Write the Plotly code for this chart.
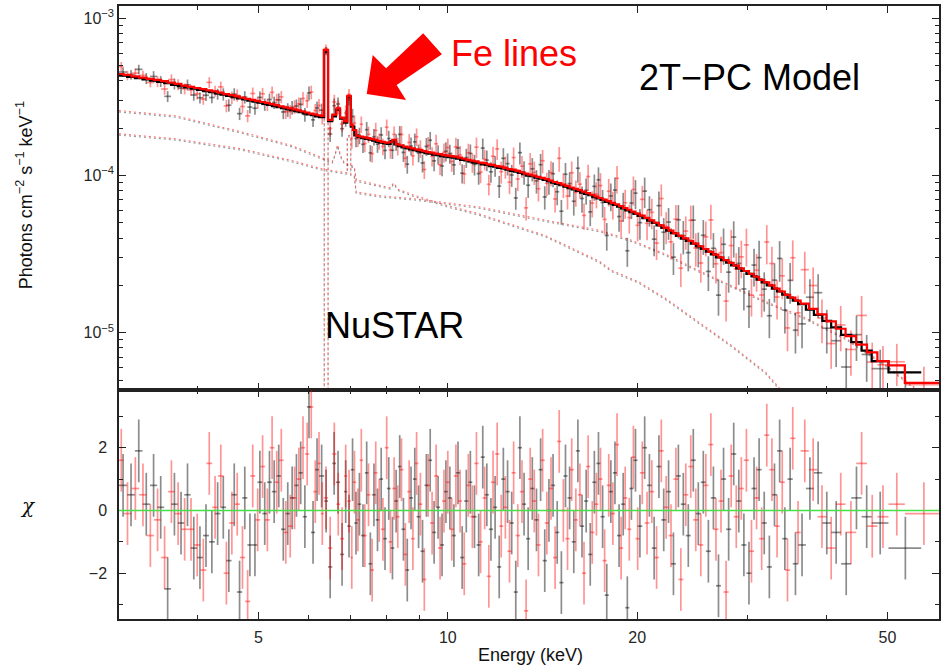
import math
import plotly.graph_objects as go

FLUX_UNIT = 1e-4          # model / flux arrays are in units of 1e-4 photons cm^-2 s^-1 keV^-1
CROSS_NORM_B = 1.02       # FPMB / FPMA cross normalisation used for the red model components

# ---------------- FPMA (black) ----------------
edges_A = [3.00, 3.09, 3.18, 3.27, 3.36, 3.45, 3.54, 3.63, 3.72, 3.81, 3.90, 3.99, 4.08, 4.17, 4.26, 4.35,
           4.44, 4.53, 4.62, 4.71, 4.80, 4.89, 4.98, 5.07, 5.16, 5.25, 5.34, 5.43, 5.52, 5.61, 5.70, 5.79,
           5.88, 5.97, 6.06, 6.15, 6.24, 6.36,
           6.45, 6.55, 6.64, 6.74, 6.84, 6.92, 7.01, 7.10, 7.19, 7.28, 7.38, 7.48, 7.58, 7.68, 7.78, 7.89,
           8.00, 8.11, 8.22, 8.33, 8.44, 8.56, 8.68, 8.80, 8.92, 9.05, 9.18, 9.31, 9.44, 9.58, 9.72, 9.86, 10.00,
           10.15, 10.30, 10.46, 10.62, 10.78, 10.94, 11.11, 11.28, 11.45, 11.62, 11.80, 11.98, 12.16, 12.35,
           12.54, 12.73, 12.92, 13.12, 13.32, 13.52, 13.73, 13.94, 14.15, 14.37, 14.59, 14.81, 15.04, 15.27,
           15.50, 15.74, 15.98, 16.22, 16.47, 16.72, 16.97, 17.23, 17.49, 17.76, 18.03, 18.30, 18.58, 18.86,
           19.15, 19.44, 19.73, 20.03,
           20.38, 20.74, 21.10, 21.47, 21.85, 22.24, 22.64, 23.05, 23.47, 23.90, 24.34, 24.79, 25.25, 25.72,
           26.20, 26.69, 27.19, 27.70, 28.22, 28.75, 29.29, 29.84, 30.40, 30.97, 31.55, 32.15, 32.76, 33.38,
           34.02, 34.68, 35.36, 36.06,
           37.1, 38.2, 39.4, 40.7, 42.2, 43.8, 45.5, 47.2, 50.2, 56.6]
model_A = [4.32, 4.24, 4.17, 4.09, 4.02, 3.95, 3.87, 3.78, 3.71, 3.64, 3.57, 3.51, 3.45, 3.39, 3.33, 3.27,
           3.22, 3.16, 3.10, 3.05, 3.00, 2.95, 2.91, 2.86, 2.82, 2.77, 2.73, 2.69, 2.65, 2.61, 2.57, 2.53,
           2.49, 2.45, 2.42, 2.38, 2.35,
           6.1, 2.22, 2.38, 2.62, 2.30, 2.17, 3.16, 2.05, 1.80, 1.76, 1.73, 1.71, 1.69, 1.67, 1.64, 1.62,
           1.60, 1.59, 1.66, 1.58, 1.54, 1.51, 1.49, 1.47, 1.45, 1.43, 1.41, 1.39, 1.38, 1.36, 1.35, 1.33, 1.32,
           1.31, 1.30, 1.28, 1.26, 1.25, 1.23, 1.21, 1.20, 1.18, 1.17, 1.15, 1.14, 1.12, 1.11, 1.09, 1.07,
           1.06, 1.04, 1.02, 1.00, 0.99, 0.97, 0.957, 0.94, 0.92, 0.90, 0.886, 0.868, 0.85, 0.833, 0.817, 0.80,
           0.78, 0.765, 0.75, 0.73, 0.715, 0.70, 0.68, 0.665, 0.65, 0.635, 0.618, 0.60, 0.585, 0.57,
           0.554, 0.535, 0.517, 0.50, 0.482, 0.464, 0.447, 0.430, 0.413, 0.397, 0.384, 0.369, 0.355, 0.341,
           0.328, 0.315, 0.302, 0.290, 0.279, 0.268, 0.257, 0.247, 0.237, 0.228, 0.218, 0.209, 0.200, 0.191,
           0.183, 0.175, 0.167, 0.160,
           0.152, 0.140, 0.130, 0.119, 0.108, 0.097, 0.087, 0.077, 0.066, 0.056]
chi_A = [0.8, 0.5, 1.9, 0.2, 0.8, 0.1, -2.5, 0.2, -0.4, 0.5, -1.2, -1.5, -0.8, -1.0, -0.1, 0.1,
         -1.6, 0.5, -2.6, 0.4, -1.1, -1.1, 0.9, -0.1, 0.9, 0.6, 1.1, -0.6, -0.1, 0.4, 0.8, 1.2,
         -0.2, 3.3, -0.7, 1.3, 1.1,
         0.3, -1.8, 1.5, 0.9, -1.4, 0.6, -0.5, 1.3, -0.4, 0.2, -0.8, 1.2, -1.7, 0.5, -0.3, 1.0,
         -0.9, 0.7, -1.2, 0.3, 1.4, -0.6, -1.9, 0.4, 1.0, -0.2, -1.3, 0.8, 1.6, -0.7, 0.1, -1.1, 0.6,
         0.4, -0.8, 1.2, -1.5, 0.3, 0.9, -0.2, -1.1, 1.7, 0.5, -0.6, 0.1, -1.8, 1.0, 0.6, -0.4,
         -2.6, 2.0, 0.2, -0.9, 0.7, -0.3, 1.3, -1.6, 0.0, 0.8, -0.7, -2.3, 1.1, 0.4, -1.0, 1.9,
         -0.5, 0.3, -1.4, 0.9, 1.5, -0.2, -2.7, 0.6, 1.2, -0.8, 0.2, -3.1, 0.7, 1.6,
         -0.5, 2.0, 0.8, -1.2, 1.4, -0.3, 0.6, -1.7, 1.1, 0.2, -0.8, 1.6, -0.1, 0.9, -1.3, 0.4,
         -2.4, 1.0, -0.6, 1.8, 0.3, -1.1, -2.0, 0.7, 1.3, -0.4, -1.8, 0.5, 1.9, -0.9, 1.0, -1.7,
         -1.1, 0.7, 1.2, -0.4, -0.7, -1.7, 0.4, -0.2, -0.4, -1.2]
relerr_A = [7, 7, 7, 8, 8, 8, 8, 8, 8, 8, 8, 8, 8, 8, 8, 9, 9, 9, 9, 9, 9, 9, 9, 9, 9, 9,
            10, 10, 10, 10, 10, 10, 10, 10, 10, 10, 10,
            6, 11, 11, 10, 11, 12, 8, 12, 12, 12, 12, 12, 12, 12, 12, 12, 12, 12, 12, 12,
            13, 13, 13, 13, 13, 13, 13, 13, 13, 14, 14, 14, 14,
            14, 14, 14, 14, 14, 14, 15, 15, 15, 15, 15, 15, 16, 16, 16, 16, 16, 16, 17, 17, 17, 17,
            17, 17, 18, 18, 18, 18, 18, 18, 19, 19, 19, 19, 19, 19, 20, 20, 20, 20, 20, 20, 21, 21, 21, 21,
            22, 22, 22, 22, 23, 23, 23, 23, 24, 24, 24, 24, 25, 25, 25, 25, 26, 26, 26, 26,
            27, 27, 27, 27, 28, 28, 28, 28, 29, 29, 29, 29,
            30, 30, 31, 31, 32, 32, 32, 33, 32, 30]

# ---------------- FPMB (red) ----------------
edges_B = [3.00, 3.05, 3.14, 3.23, 3.32, 3.41, 3.50, 3.59, 3.68, 3.77, 3.86, 3.95, 4.04, 4.13, 4.22, 4.31,
           4.40, 4.49, 4.58, 4.67, 4.76, 4.85, 4.94, 5.03, 5.12, 5.21, 5.30, 5.39, 5.48, 5.57, 5.66, 5.75,
           5.84, 5.93, 6.02, 6.11, 6.20, 6.28, 6.35,
           6.45, 6.55, 6.65, 6.74, 6.84, 6.92, 7.01, 7.06, 7.15, 7.24, 7.33, 7.43, 7.53, 7.63, 7.73, 7.83,
           7.94, 8.05, 8.16, 8.27, 8.38, 8.50, 8.62, 8.74, 8.86, 8.98, 9.11, 9.24, 9.37, 9.51, 9.65, 9.79,
           9.93, 10.07,
           10.22, 10.38, 10.54, 10.70, 10.86, 11.02, 11.19, 11.36, 11.53, 11.71, 11.89, 12.07, 12.25, 12.44,
           12.63, 12.82, 13.02, 13.22, 13.42, 13.62, 13.83, 14.04, 14.26, 14.48, 14.70, 14.92, 15.15, 15.38,
           15.62, 15.86, 16.10, 16.34, 16.59, 16.84, 17.10, 17.36, 17.62, 17.89, 18.16, 18.44, 18.72, 19.00,
           19.29, 19.58, 19.88, 20.20,
           20.56, 20.92, 21.29, 21.66, 22.04, 22.44, 22.84, 23.26, 23.68, 24.12, 24.56, 25.02, 25.48, 25.96,
           26.44, 26.94, 27.44, 27.96, 28.48, 29.02, 29.56, 30.12, 30.68, 31.26, 31.85, 32.45, 33.07, 33.70,
           34.35, 35.02, 35.70, 36.40,
           37.5, 38.7, 40.0, 41.4, 42.9, 44.6, 46.4, 48.2, 50.2, 53.3, 61.0]
model_B = [4.43, 4.37, 4.28, 4.20, 4.13, 4.06, 3.99, 3.90, 3.83, 3.74, 3.67, 3.61, 3.55, 3.49, 3.43, 3.37,
           3.30, 3.25, 3.19, 3.13, 3.08, 3.03, 2.99, 2.94, 2.90, 2.85, 2.81, 2.76, 2.72, 2.68, 2.64, 2.60,
           2.56, 2.52, 2.48, 2.45, 2.42, 2.40,
           6.3, 2.26, 2.44, 2.68, 2.34, 2.21, 3.22, 2.10, 1.95, 1.79, 1.77, 1.75, 1.73, 1.71, 1.69, 1.66,
           1.64, 1.62, 1.63, 1.69, 1.58, 1.56, 1.53, 1.51, 1.49, 1.47, 1.45, 1.43, 1.41, 1.40, 1.38, 1.37,
           1.35, 1.34,
           1.33, 1.32, 1.30, 1.28, 1.26, 1.245, 1.23, 1.21, 1.20, 1.18, 1.17, 1.15, 1.14, 1.12, 1.10, 1.09,
           1.07, 1.05, 1.03, 1.015, 1.00, 0.98, 0.967, 0.95, 0.93, 0.91, 0.895, 0.877, 0.86, 0.84, 0.824, 0.808,
           0.79, 0.773, 0.755, 0.737, 0.72, 0.704, 0.687, 0.67, 0.655, 0.64, 0.622, 0.606, 0.59, 0.573,
           0.556, 0.538, 0.518, 0.501, 0.482, 0.465, 0.447, 0.429, 0.413, 0.398, 0.384, 0.369, 0.355, 0.341,
           0.327, 0.314, 0.302, 0.290, 0.278, 0.267, 0.257, 0.247, 0.237, 0.227, 0.217, 0.209, 0.200, 0.191,
           0.183, 0.174, 0.167, 0.160,
           0.153, 0.142, 0.131, 0.118, 0.106, 0.095, 0.084, 0.075, 0.066, 0.062, 0.048]
chi_B = [1.6, -0.1, 0.7, 0.5, -0.8, -0.3, -1.5, 0.6, -0.1, -0.6, -0.6, -1.1, -1.9, 1.5, 0.1, 1.1,
         -2.0, -0.4, 0.2, -1.5, -2.9, 1.1, -0.3, 1.4, -0.3, 2.0, 0.9, 1.6, -0.7, -0.5, 0.4, 1.0,
         2.0, 1.8, 3.3, 0.6, 1.5, -0.1,
         0.4, -1.2, 1.8, 0.2, -0.9, 1.1, 0.3, -1.5, 0.9, -0.3, 1.6, -0.8, 0.5, -1.9, 1.2, 0.0,
         -0.6, 2.0, -1.0, 0.7, -0.2, 1.3, -1.4, 0.6, -0.9, 1.5, 0.2, -2.2, 0.8, -0.4, 1.1, -1.2, 0.3, 0.9,
         -0.6, 1.1, 0.3, -1.7, 0.8, -0.2, 1.5, -1.0, 0.4, -2.1, 0.9, 1.8, -0.5, 0.1, -1.3, 1.2,
         -0.8, 0.6, -3.2, 1.0, 0.3, -1.1, 1.6, -0.4, 0.7, -1.5, 2.2, 0.0, -0.9, 1.3, -0.3, 0.5,
         -2.0, 1.4, -0.7, 0.2, 1.0, -1.6, 0.8, -0.1, 2.1, -1.2, 0.4, -0.6, 1.7, -0.9,
         1.2, -0.4, 0.6, -1.5, 1.9, 0.1, -0.8, 1.0, -2.2, 0.5, 1.4, -0.3, -1.1, 0.8, 2.1, -0.6,
         0.3, -2.6, 1.1, -0.2, 0.7, 1.6, -1.3, 0.4, -0.9, 2.4, 1.3, -0.5, 0.9, -1.9, 2.3, -0.7,
         1.9, 1.3, -0.2, -1.2, 0.2, -0.7, 1.5, -0.5, -0.2, 0.2, -0.1]
relerr_B = [7, 7, 7, 7, 7, 8, 8, 8, 8, 8, 8, 8, 8, 8, 8, 8, 9, 9, 9, 9, 9, 9, 9, 9, 9, 9, 9, 9,
            10, 10, 10, 10, 10, 10, 10, 10, 10, 11,
            6, 11, 11, 10, 11, 12, 8, 14, 12, 12, 12, 12, 12, 12, 12, 12, 12, 12, 12, 12,
            13, 13, 13, 13, 13, 13, 13, 13, 13, 14, 14, 14, 14, 14,
            14, 14, 14, 14, 14, 14, 15, 15, 15, 15, 15, 15, 16, 16, 16, 16, 16, 16, 17, 17, 17, 17,
            17, 17, 18, 18, 18, 18, 18, 18, 19, 19, 19, 19, 19, 19, 20, 20, 20, 20, 20, 20, 21, 21, 21, 21,
            22, 22, 22, 22, 23, 23, 23, 23, 24, 24, 24, 24, 25, 25, 25, 25, 26, 26, 26, 26,
            27, 27, 27, 27, 28, 28, 28, 28, 29, 29, 29, 29,
            30, 30, 31, 31, 32, 32, 33, 33, 32, 30, 30]

# ---------------- model components (dotted) ----------------
cool_E = [3.0, 3.7, 4.7, 5.66, 6.32, 6.55, 6.62, 6.68, 6.76, 6.85, 7.0, 7.1, 7.15, 7.5, 7.9, 8.1,
          8.2, 8.35, 8.8, 10.0, 11.2, 14.3, 16.2, 17.4, 18.2, 20.1, 22.2, 25.0, 28.3, 32.0, 33.6, 36.0]
cool_F = [2.54, 2.35, 1.86, 1.52, 1.27, 1.20, 1.35, 1.54, 1.30, 1.18, 1.14, 1.12, 0.92, 0.88, 0.84, 0.82,
          0.88, 0.80, 0.74, 0.63, 0.56, 0.407, 0.321, 0.28, 0.245, 0.207, 0.162, 0.115, 0.081, 0.055, 0.044, 0.031]
hot_E = [3.0, 3.7, 4.7, 5.66, 6.32, 6.85, 6.92, 6.92, 7.01, 7.01, 7.1, 7.15, 7.8, 8.8, 10.0, 11.2,
         14.3, 17.4, 19.6, 22.2, 25.0, 28.3, 32.0, 37.0, 43.0, 50.0, 56.0, 60.4]
hot_F = [1.81, 1.68, 1.45, 1.22, 1.08, 1.03, 1.02, 1.76, 1.76, 1.00, 0.98, 0.77, 0.73, 0.70, 0.66, 0.62,
         0.51, 0.44, 0.38, 0.31, 0.245, 0.195, 0.155, 0.122, 0.09, 0.06, 0.042, 0.034]
gauss_edges = [6.24, 6.36, 6.45, 6.55]
gauss_F = [1e-5, 3.8, 1e-5]

# ---------------- axes / labels ----------------
x_range_keV = [3.0, 60.4]
flux_range = [4.32e-6, 1.2e-3]
chi_range = [-3.46, 3.84]
x_major = [5, 10, 20, 50]
x_minor = [3, 4, 6, 7, 8, 9, 30, 40]
flux_major = [1e-5, 1e-4, 1e-3]
flux_major_text = ["10<sup>−5</sup>", "10<sup>−4</sup>", "10<sup>−3</sup>"]
flux_minor = [5e-6, 6e-6, 7e-6, 8e-6, 9e-6, 2e-5, 3e-5, 4e-5, 5e-5, 6e-5, 7e-5, 8e-5, 9e-5,
              2e-4, 3e-4, 4e-4, 5e-4, 6e-4, 7e-4, 8e-4, 9e-4]
chi_major = [-2, 0, 2]
chi_minor = [-3, -1, 1, 3]

for e, m, c, r in ((edges_A, model_A, chi_A, relerr_A), (edges_B, model_B, chi_B, relerr_B)):
    assert len(e) == len(m) + 1 == len(c) + 1 == len(r) + 1, (len(e), len(m), len(c), len(r))
assert len(cool_E) == len(cool_F) and len(hot_E) == len(hot_F)

# ---------------- geometry ----------------
W, H = 944, 666
ML, MR, MT, MB = 119, 3, 6, 47
PW, PH = W - ML - MR, H - MT - MB
SPLIT = (619 - 390) / PH   # bottom panel fraction


def px_to_paper(px, py):
    return (px - ML) / PW, (MT + PH - py) / PH


def bin_info(edges):
    lo, hi = edges[:-1], edges[1:]
    c = [(a + b) / 2 for a, b in zip(lo, hi)]
    return c, [b - m for b, m in zip(hi, c)], [m - a for m, a in zip(c, lo)]


fig = go.Figure()

BLACK_BAR = "rgba(0,0,0,0.45)"
RED_BAR = "rgba(255,0,0,0.42)"
BAR_W = 1.7
DOT = "2px,3px"

# dotted components
for scale, col in ((1.0, "rgba(0,0,0,0.4)"), (CROSS_NORM_B, "rgba(255,0,0,0.55)")):
    fig.add_trace(go.Scatter(x=cool_E, y=[v * scale * FLUX_UNIT for v in cool_F], mode="lines",
                             line=dict(color=col, width=1.1, dash=DOT), xaxis="x", yaxis="y", hoverinfo="skip"))
    fig.add_trace(go.Scatter(x=hot_E, y=[v * scale * FLUX_UNIT for v in hot_F], mode="lines",
                             line=dict(color=col, width=1.1, dash=DOT), xaxis="x", yaxis="y", hoverinfo="skip"))
    fig.add_trace(go.Scatter(x=gauss_edges, y=[v * scale * FLUX_UNIT for v in gauss_F + gauss_F[-1:]],
                             mode="lines", line=dict(color=col, width=1.1, dash=DOT, shape="hv"),
                             xaxis="x", yaxis="y", hoverinfo="skip"))

datasets = [(edges_A, model_A, chi_A, relerr_A, BLACK_BAR, "black"),
            (edges_B, model_B, chi_B, relerr_B, RED_BAR, "#ff0000")]

# spectra with error bars: residual chi measured in units of the (relative) data error
for edges, model, chi, rel, barcol, linecol in datasets:
    xc, xp, xm = bin_info(edges)
    flux = [m * FLUX_UNIT * (1 + r / 100.0) ** c for m, c, r in zip(model, chi, rel)]
    sig = [f * r / 100.0 for f, r in zip(flux, rel)]
    fig.add_trace(go.Scatter(
        x=xc, y=flux, mode="markers", marker=dict(size=1, color="rgba(0,0,0,0)"),
        error_x=dict(type="data", array=xp, arrayminus=xm, symmetric=False, color=barcol, thickness=BAR_W, width=0),
        error_y=dict(type="data", array=sig, color=barcol, thickness=BAR_W, width=0),
        xaxis="x", yaxis="y", hoverinfo="skip"))

# model step lines
for edges, model, chi, rel, barcol, linecol in datasets:
    fig.add_trace(go.Scatter(x=edges, y=[m * FLUX_UNIT for m in model + model[-1:]], mode="lines",
                             line=dict(color=linecol, width=2.2, shape="hv"), xaxis="x", yaxis="y",
                             hoverinfo="skip"))

# residuals
for edges, model, chi, rel, barcol, linecol in datasets:
    xc, xp, xm = bin_info(edges)
    fig.add_trace(go.Scatter(
        x=xc, y=chi, mode="markers", marker=dict(size=1, color="rgba(0,0,0,0)"),
        error_x=dict(type="data", array=xp, arrayminus=xm, symmetric=False, color=barcol, thickness=BAR_W, width=0),
        error_y=dict(type="constant", value=1.0, color=barcol, thickness=BAR_W, width=0),
        xaxis="x2", yaxis="y2", hoverinfo="skip"))

AX_COL = "#222222"
TICK_FONT = dict(family="Liberation Sans, Arial, sans-serif", size=16, color="#262626")
common = dict(showline=True, linecolor=AX_COL, linewidth=1.5, mirror="allticks", ticks="inside",
              ticklen=7, tickwidth=1.2, tickcolor=AX_COL, showgrid=False, zeroline=False, tickfont=TICK_FONT)
minor_common = dict(ticks="inside", ticklen=4, tickwidth=1, tickcolor=AX_COL, showgrid=False)

log_x = [math.log10(v) for v in x_range_keV]
fig.update_layout(
    width=W, height=H, margin=dict(l=ML, r=MR, t=MT, b=MB),
    paper_bgcolor="white", plot_bgcolor="white", showlegend=False,
    font=dict(family="Liberation Sans, Arial, sans-serif", color="#222"),
    xaxis=dict(**common, type="log", range=log_x, domain=[0, 1], anchor="y",
               tickmode="array", tickvals=x_major, showticklabels=False,
               minor=dict(**minor_common, tickmode="array", tickvals=x_minor)),
    xaxis2=dict(**common, type="log", range=log_x, domain=[0, 1], anchor="y2", matches="x",
                tickmode="array", tickvals=x_major, ticktext=[str(v) for v in x_major],
                ticklabelstandoff=3,
                minor=dict(**minor_common, tickmode="array", tickvals=x_minor)),
    yaxis=dict(**common, type="log", range=[math.log10(v) for v in flux_range], domain=[SPLIT, 1],
               anchor="x", tickmode="array", tickvals=flux_major, ticktext=flux_major_text,
               minor=dict(**minor_common, tickmode="array", tickvals=flux_minor)),
    yaxis2=dict(**common, range=chi_range, domain=[0, SPLIT], anchor="x2",
                tickmode="array", tickvals=chi_major, ticktext=["−2", "0", "2"], ticklabelstandoff=7,
                minor=dict(**minor_common, tickmode="array", tickvals=chi_minor)),
)

# zero line of the residual panel
fig.add_shape(type="line", xref="x2 domain", x0=0, x1=1, yref="y2", y0=0, y1=0,
              line=dict(color="rgb(70,225,70)", width=1.6), layer="above")

# red block arrow pointing at the Fe lines
arrow_px = [(367.3, 94), (373.3, 55), (386.7, 68.3), (424, 33.3), (442.7, 54.3), (397.3, 85), (406.7, 100)]
pts = [px_to_paper(x, y) for x, y in arrow_px]
path = "M " + " L ".join(f"{x:.4f},{y:.4f}" for x, y in pts) + " Z"
fig.add_shape(type="path", xref="paper", yref="paper", path=path, fillcolor="#ff0000",
              line=dict(width=0), layer="above")


def add_text(text, px, py, size, color="#000", angle=0, family="Liberation Sans, Arial, sans-serif"):
    x, y = px_to_paper(px, py)
    fig.add_annotation(text=text, x=x, y=y, xref="paper", yref="paper", showarrow=False,
                       xanchor="center", yanchor="middle", textangle=angle,
                       font=dict(family=family, size=size, color=color))


add_text("Fe lines", 515, 53, 36, "#ff0000")
add_text("2T−PC Model", 751, 77, 36, "#000")
add_text("NuSTAR", 395, 325, 36, "#000")
add_text("Photons cm<sup>−2</sup> s<sup>−1</sup> keV<sup>−1</sup>", 24, 195, 18, "#111", angle=-90)
add_text("<i>χ</i>", 28, 506, 20, "#111", family="DejaVu Serif")
add_text("Energy (keV)", 532, 655, 18, "#111")

fig.write_html("out.html", config={"displayModeBar": False})
